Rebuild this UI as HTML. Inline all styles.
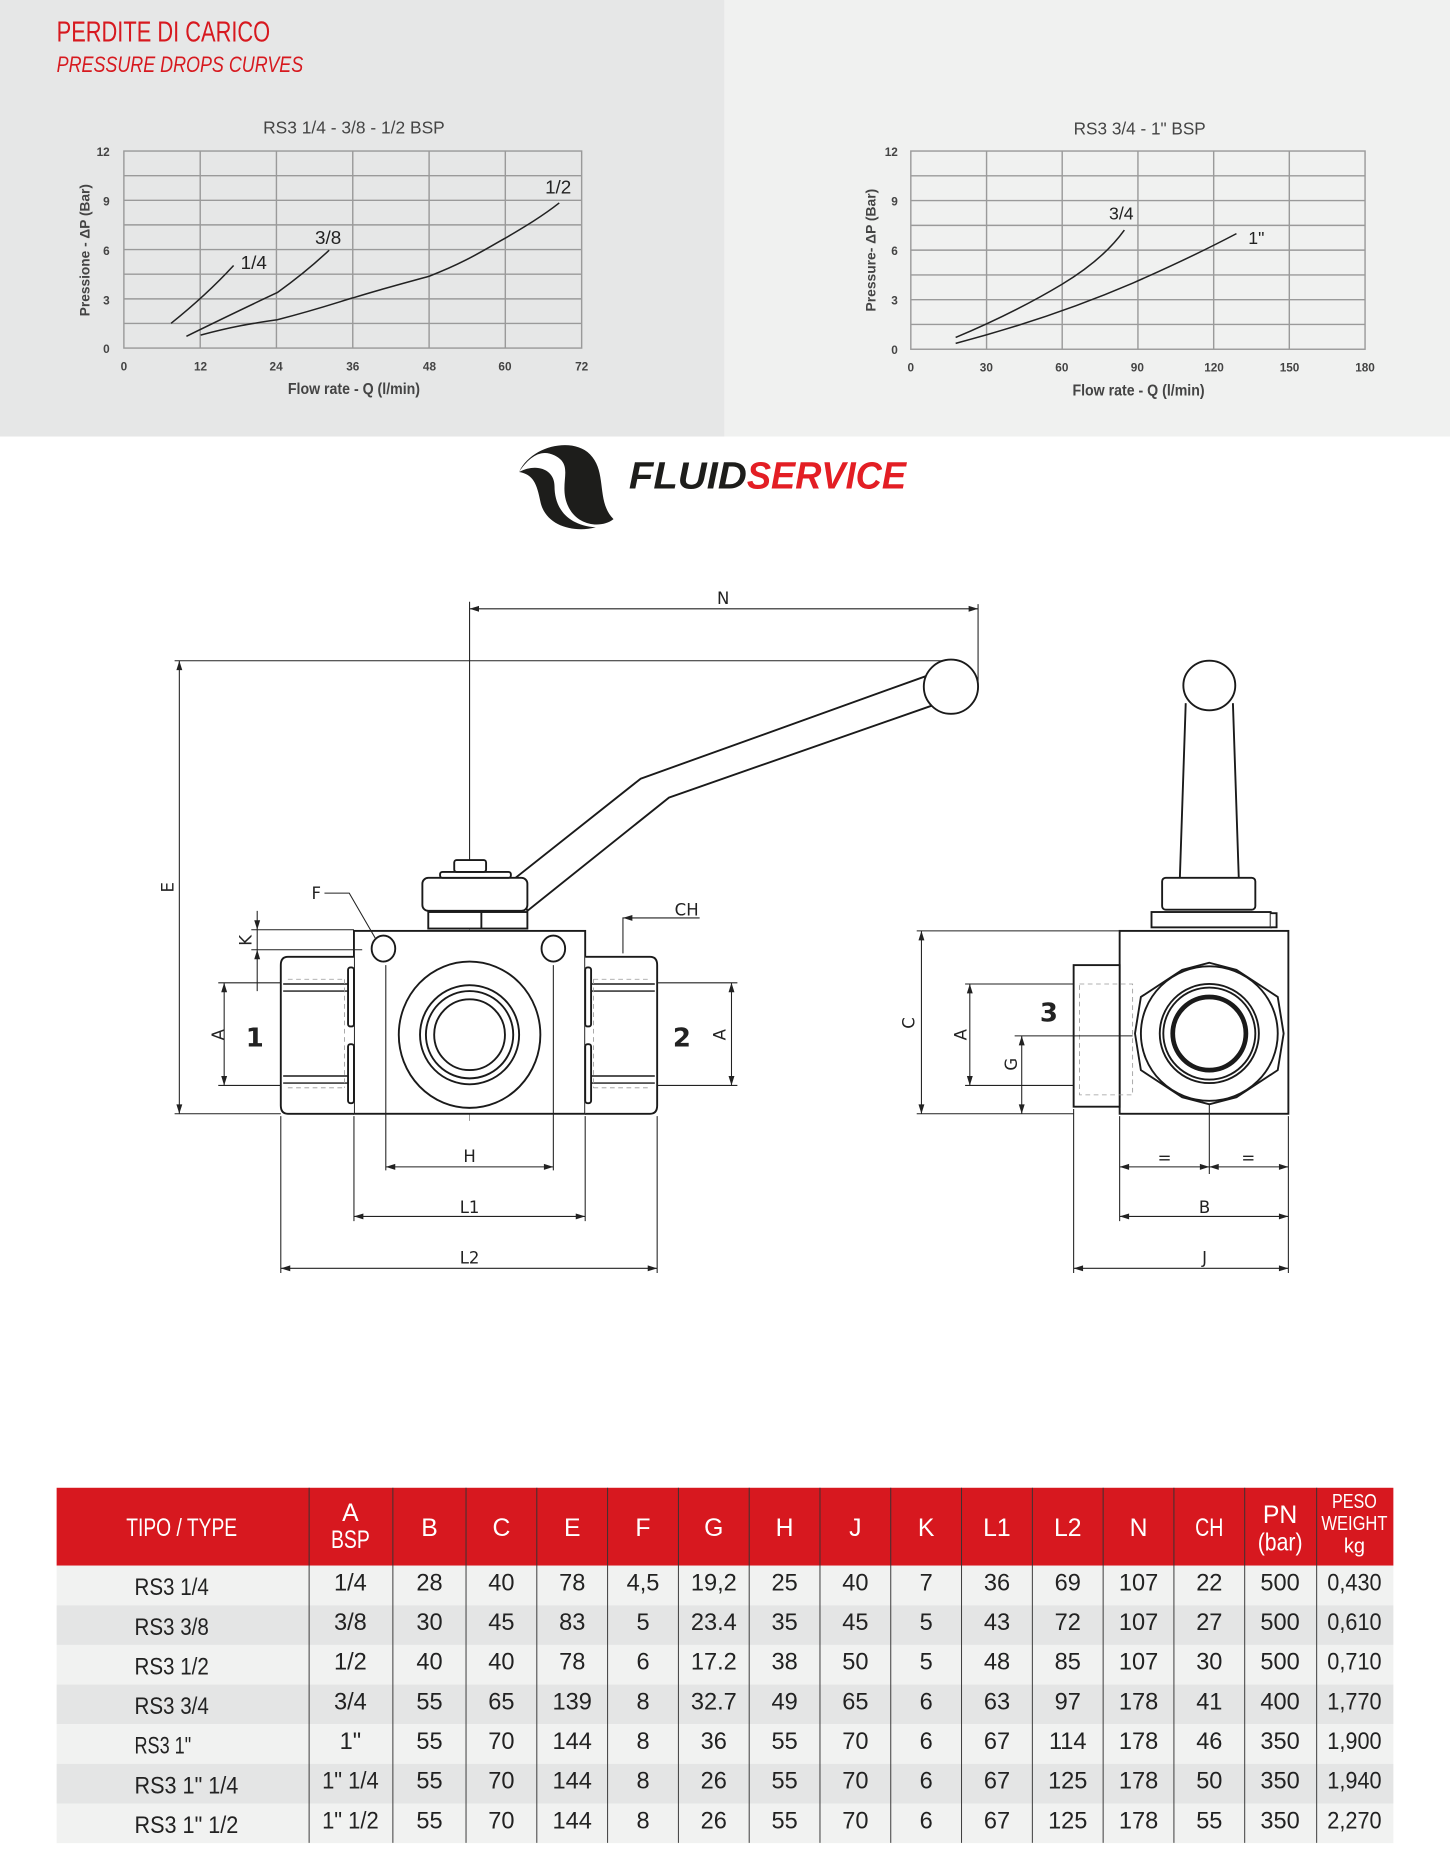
<!DOCTYPE html>
<html><head><meta charset="utf-8"><style>
html,body{margin:0;padding:0;background:#fff;}
svg{display:block;}
.t{font-family:"Liberation Sans Narrow","Liberation Sans",sans-serif;}
.d{font-family:"DejaVu Sans","Liberation Sans",sans-serif;}
</style></head><body>
<svg width="1450" height="1850" viewBox="0 0 1229 1568" xmlns="http://www.w3.org/2000/svg">
<rect x="0" y="0" width="1229" height="1568" fill="#fff"/>
<rect x="0" y="0" width="614" height="370" fill="#e6e7e7"/>
<rect x="614" y="0" width="615" height="370" fill="#f0f1f0"/>
<text x="48" y="35" class="t" font-size="24" fill="#d7191f" textLength="181" lengthAdjust="spacingAndGlyphs">PERDITE DI CARICO</text>
<text x="48" y="61" class="t" font-size="19" font-style="italic" fill="#d7191f" textLength="209" lengthAdjust="spacingAndGlyphs">PRESSURE DROPS CURVES</text>

<!-- chart 1 -->
<g stroke="#9a9a9a" stroke-width="1.2" fill="none">
<rect x="105" y="128" width="388" height="167"/>
<path d="M105 148.9H493M105 169.8H493M105 190.6H493M105 211.5H493M105 232.4H493M105 253.3H493M105 274.1H493"/>
<path d="M169.7 128V295M234.3 128V295M299 128V295M363.7 128V295M428.3 128V295"/>
</g>
<g class="t" fill="#444" font-size="14" font-weight="bold">
<text x="300" y="113" text-anchor="middle" font-weight="normal" font-size="15" textLength="154" lengthAdjust="spacingAndGlyphs">RS3 1/4 - 3/8 - 1/2 BSP</text>
<text x="93" y="132" text-anchor="end" font-size="10">12</text>
<text x="93" y="174" text-anchor="end" font-size="10">9</text>
<text x="93" y="216" text-anchor="end" font-size="10">6</text>
<text x="93" y="258" text-anchor="end" font-size="10">3</text>
<text x="93" y="299" text-anchor="end" font-size="10">0</text>
<g font-size="10" text-anchor="middle"><text x="105" y="314">0</text><text x="170" y="314">12</text><text x="234" y="314">24</text><text x="299" y="314">36</text><text x="364" y="314">48</text><text x="428" y="314">60</text><text x="493" y="314">72</text></g>
<text x="300" y="334" text-anchor="middle" font-size="13" textLength="112" lengthAdjust="spacingAndGlyphs">Flow rate - Q (l/min)</text>
<text transform="translate(76,212) rotate(-90)" text-anchor="middle" font-size="12" textLength="112" lengthAdjust="spacingAndGlyphs">Pressione - ΔP (Bar)</text>
</g>
<g stroke="#222" stroke-width="1.3" fill="none">
<path d="M145 274 Q175 250 198 225"/>
<path d="M158 285 Q205 262 235 248 Q260 230 279 212"/>
<path d="M170 284 C200 276 215 274 235 271 C270 262 290 255 299 252.5 C330 243 350 238 364 234 C395 222 410 212 428 202 C445 192 460 183 474 172"/>
</g>
<g class="t" font-size="16" fill="#222"><text x="204" y="228">1/4</text><text x="267" y="207">3/8</text><text x="462" y="164">1/2</text></g>

<!-- chart 2 -->
<g stroke="#9a9a9a" stroke-width="1.2" fill="none">
<rect x="772" y="128" width="385" height="168"/>
<path d="M772 149H1157M772 170H1157M772 191H1157M772 212H1157M772 233H1157M772 254H1157M772 275H1157"/>
<path d="M836.2 128V296M900.3 128V296M964.5 128V296M1028.7 128V296M1092.8 128V296"/>
</g>
<g class="t" fill="#444" font-weight="bold">
<text x="966" y="114" text-anchor="middle" font-weight="normal" font-size="15" textLength="112" lengthAdjust="spacingAndGlyphs">RS3 3/4 - 1" BSP</text>
<g font-size="10" text-anchor="end"><text x="761" y="132">12</text><text x="761" y="174">9</text><text x="761" y="216">6</text><text x="761" y="258">3</text><text x="761" y="300">0</text></g>
<g font-size="10" text-anchor="middle"><text x="772" y="315">0</text><text x="836" y="315">30</text><text x="900" y="315">60</text><text x="964" y="315">90</text><text x="1029" y="315">120</text><text x="1093" y="315">150</text><text x="1157" y="315">180</text></g>
<text x="965" y="335" text-anchor="middle" font-size="13" textLength="112" lengthAdjust="spacingAndGlyphs">Flow rate - Q (l/min)</text>
<text transform="translate(742,212) rotate(-90)" text-anchor="middle" font-size="12" textLength="104" lengthAdjust="spacingAndGlyphs">Pressure- ΔP (Bar)</text>
</g>
<g stroke="#222" stroke-width="1.3" fill="none">
<path d="M810 286 Q860 265 900 241 Q935 220 953 195"/>
<path d="M810 291 Q890 270 960 240 Q1010 218 1048 198"/>
</g>
<g class="t" font-size="15" fill="#222"><text x="940" y="186">3/4</text><text x="1058" y="207">1"</text></g>

<!-- logo -->
<g fill="#1d1d1b">
<path d="M440 400 C450 378 485 370 500 385 C515 400 505 425 520 440 C510 448 490 446 482 430 C472 410 488 395 470 386 C458 380 448 388 440 400Z"/>
<path d="M440 400 C455 392 470 398 470 412 C470 430 480 445 505 447 C485 452 462 445 458 425 C455 410 452 402 440 400Z"/>
</g>
<text x="533" y="414" font-family="Liberation Sans,sans-serif" font-weight="bold" font-style="italic" font-size="32" fill="#1d1d1b" textLength="100" lengthAdjust="spacingAndGlyphs">FLUID</text>
<text x="633" y="414" font-family="Liberation Sans,sans-serif" font-weight="bold" font-style="italic" font-size="32" fill="#e31e24" textLength="135" lengthAdjust="spacingAndGlyphs">SERVICE</text>

<!-- drawing left -->
<g stroke="#222" stroke-width="0.9" fill="none">
<path d="M398 510V742M829 512V580M398 516H829"/>
<path d="M148 560H800M152 560V944M148 944H238"/>
<path d="M398 742V950M300 877H496" stroke-dasharray="12 3 2 3" stroke="#888" stroke-width="0.7"/>
</g>
<g fill="#222">
<path d="M398 516l8-2.5v5z"/><path d="M829 516l-8-2.5v5z"/>
<path d="M152 560l-2.5 8h5z"/><path d="M152 944l-2.5-8h5z"/>
</g>
<g stroke="#1a1a1a" stroke-width="1.6" fill="#fff">
<path d="M785 573 L543 660 L437 744 L447 772 L567 676 L790 598"/>
<circle cx="806" cy="582" r="23"/>
<rect x="358" y="744" width="89" height="28" rx="5"/>
<rect x="363" y="773" width="84" height="14"/>
<path d="M408 773V787"/>
<rect x="373" y="739" width="60" height="5" rx="2"/>
<rect x="385" y="729" width="27" height="10" rx="2"/>
<rect x="300" y="789" width="196" height="155"/>
<path d="M300 811 H244 Q238 811 238 818 V937 Q238 944 244 944 H300"/>
<path d="M496 811 H551 Q557 811 557 818 V937 Q557 944 551 944 H496"/>
<path d="M240 834H296M240 840H296M240 912H296M240 918H296M499 834H555M499 840H555M499 912H555M499 918H555" stroke-width="1.2"/>
<rect x="295" y="820" width="5" height="50" rx="2"/><rect x="295" y="885" width="5" height="50" rx="2"/>
<rect x="496" y="820" width="5" height="50" rx="2"/><rect x="496" y="885" width="5" height="50" rx="2"/>
<ellipse cx="325" cy="804" rx="10" ry="11"/><ellipse cx="469" cy="804" rx="10" ry="11"/>
<ellipse cx="398" cy="877" rx="60" ry="62"/>
<circle cx="398" cy="877" r="42"/><circle cx="398" cy="877" r="37"/><circle cx="398" cy="877" r="30"/>
</g>
<g stroke="#999" stroke-width="0.7" stroke-dasharray="4 3" fill="none">
<path d="M244 830H292M244 922H292M503 830H552M503 922H552M292 830V922M503 830V922"/>
</g>
<g stroke="#222" stroke-width="0.9" fill="none">
<path d="M185 833H238M185 920H238M190 833V920"/>
<path d="M557 833H625M557 920H625M620 833V920"/>
<path d="M213 788H300M213 805H307M218 772V840"/>
<path d="M275 757H296L318 795"/>
<path d="M593 778H528V808"/>
<path d="M327 818V992M469 818V992M327 989H469"/>
<path d="M300 946V1035M496 946V1035M300 1031H496"/>
<path d="M238 946V1079M557 946V1079M238 1075H557"/>
</g>
<g fill="#222">
<path d="M190 833l-2.5 8h5z"/><path d="M190 920l-2.5-8h5z"/>
<path d="M620 833l-2.5 8h5z"/><path d="M620 920l-2.5-8h5z"/>
<path d="M218 788l-2.5-8h5z"/><path d="M218 805l-2.5 8h5z"/>
<path d="M528 778l8-2.5v5z"/>
<path d="M327 989l8-2.5v5z"/><path d="M469 989l-8-2.5v5z"/>
<path d="M300 1031l8-2.5v5z"/><path d="M496 1031l-8-2.5v5z"/>
<path d="M238 1075l8-2.5v5z"/><path d="M557 1075l-8-2.5v5z"/>
</g>
<g class="d" font-size="14" fill="#222" text-anchor="middle">
<text x="613" y="512">N</text>
<text transform="translate(147,752) rotate(-90)">E</text>
<text x="268" y="762">F</text>
<text x="582" y="776">CH</text>
<text transform="translate(190,877) rotate(-90)">A</text>
<text transform="translate(615,877) rotate(-90)">A</text>
<text transform="translate(213,797) rotate(-90)">K</text>
<text x="398" y="985">H</text>
<text x="398" y="1028">L1</text>
<text x="398" y="1071">L2</text>
<text x="216" y="887" font-size="22" font-weight="bold">1</text>
<text x="578" y="887" font-size="22" font-weight="bold">2</text>
</g>

<!-- right view -->
<g stroke="#1a1a1a" stroke-width="1.6" fill="#fff">
<path d="M1005 596 L1000 745 H1050 L1045 596"/>
<ellipse cx="1025" cy="581" rx="22" ry="21"/>
<rect x="985" y="744" width="79" height="27" rx="3"/>
<rect x="976" y="773" width="101" height="13"/>
<path d="M1077 774H1082V786H1077"/>
<rect x="949" y="789" width="143" height="155"/>
<rect x="910" y="818" width="39" height="120"/>
<path d="M1025 816 L1048 822 L1083 845 L1088 876 L1083 907 L1048 930 L1025 936 L1002 930 L967 907 L962 876 L967 845 L1002 822Z"/>
<ellipse cx="1025" cy="876" rx="58" ry="57"/>
<circle cx="1025" cy="876" r="42"/><circle cx="1025" cy="876" r="39"/>
<circle cx="1025" cy="876" r="31" stroke-width="4"/>
</g>
<rect x="915" y="834" width="45" height="94" fill="none" stroke="#999" stroke-width="0.7" stroke-dasharray="4 3"/>
<g stroke="#222" stroke-width="0.9" fill="none">
<path d="M777 789H949M777 944H910M781 789V944"/>
<path d="M818 834H910M818 920H910M822 834V920"/>
<path d="M860 878H960M866 878V944"/>
<path d="M949 946V1035M1092 946V1079M1025 936V995M910 940V1079"/>
<path d="M949 989H1092M949 1031H1092M910 1075H1092"/>
</g>
<g fill="#222">
<path d="M781 789l-2.5 8h5z"/><path d="M781 944l-2.5-8h5z"/>
<path d="M822 834l-2.5 8h5z"/><path d="M822 920l-2.5-8h5z"/>
<path d="M866 878l-2.5 8h5z"/><path d="M866 944l-2.5-8h5z"/>
<path d="M949 989l8-2.5v5z"/><path d="M1025 989l-8-2.5v5z"/><path d="M1025 989l8-2.5v5z"/><path d="M1092 989l-8-2.5v5z"/>
<path d="M949 1031l8-2.5v5z"/><path d="M1092 1031l-8-2.5v5z"/>
<path d="M910 1075l8-2.5v5z"/><path d="M1092 1075l-8-2.5v5z"/>
</g>
<g class="d" font-size="14" fill="#222" text-anchor="middle">
<text transform="translate(775,867) rotate(-90)">C</text>
<text transform="translate(819,877) rotate(-90)">A</text>
<text transform="translate(862,902) rotate(-90)">G</text>
<text x="987" y="986">=</text><text x="1058" y="986">=</text>
<text x="1021" y="1028">B</text>
<text x="1021" y="1071">J</text>
<text x="889" y="866" font-size="22" font-weight="bold">3</text>
</g>

<!-- table -->
<rect x="48" y="1261" width="1133" height="66" fill="#d7181f"/>
<g>
<rect x="48" y="1327" width="1133" height="33.6" fill="#f1f2f1"/>
<rect x="48" y="1360.6" width="1133" height="33.6" fill="#e4e5e5"/>
<rect x="48" y="1394.2" width="1133" height="33.6" fill="#f1f2f1"/>
<rect x="48" y="1427.8" width="1133" height="33.6" fill="#e4e5e5"/>
<rect x="48" y="1461.4" width="1133" height="33.6" fill="#f1f2f1"/>
<rect x="48" y="1495" width="1133" height="33.6" fill="#e4e5e5"/>
<rect x="48" y="1528.6" width="1133" height="33.6" fill="#f1f2f1"/>
</g>
<g stroke="#333" stroke-width="0.8">
<path d="M262 1261V1562M333 1261V1562M395 1261V1562M455 1261V1562M515 1261V1562M575 1261V1562M635 1261V1562M695 1261V1562M755 1261V1562M815 1261V1562M875 1261V1562M935 1261V1562M995 1261V1562M1055 1261V1562M1116 1261V1562"/>
</g>
<g class="t" font-size="21" fill="#fff" text-anchor="middle">
<text x="154" y="1302" textLength="94" lengthAdjust="spacingAndGlyphs">TIPO / TYPE</text>
<text x="297" y="1289">A</text><text x="297" y="1312" textLength="33" lengthAdjust="spacingAndGlyphs">BSP</text>
<text x="364" y="1302">B</text><text x="425" y="1302">C</text><text x="485" y="1302">E</text><text x="545" y="1302">F</text><text x="605" y="1302">G</text><text x="665" y="1302">H</text><text x="725" y="1302">J</text><text x="785" y="1302">K</text><text x="845" y="1302">L1</text><text x="905" y="1302">L2</text><text x="965" y="1302">N</text><text x="1025" y="1302" textLength="24" lengthAdjust="spacingAndGlyphs">CH</text>
<text x="1085" y="1291">PN</text><text x="1085" y="1314" textLength="38" lengthAdjust="spacingAndGlyphs">(bar)</text>
<g font-size="17"><text x="1148" y="1278" textLength="38" lengthAdjust="spacingAndGlyphs">PESO</text><text x="1148" y="1297" textLength="56" lengthAdjust="spacingAndGlyphs">WEIGHT</text><text x="1148" y="1316">kg</text></g>
</g>
<g class="t" font-size="20" fill="#222" text-anchor="middle">
<g transform="translate(0,1352)"><text x="114" text-anchor="start" textLength="63" lengthAdjust="spacingAndGlyphs">RS3 1/4</text><text x="297" y="-4">1/4</text><text x="364" y="-4">28</text><text x="425" y="-4">40</text><text x="485" y="-4">78</text><text x="545" y="-4">4,5</text><text x="605" y="-4">19,2</text><text x="665" y="-4">25</text><text x="725" y="-4">40</text><text x="785" y="-4">7</text><text x="845" y="-4">36</text><text x="905" y="-4">69</text><text x="965" y="-4">107</text><text x="1025" y="-4">22</text><text x="1085" y="-4">500</text><text x="1148" y="-4" textLength="46" lengthAdjust="spacingAndGlyphs">0,430</text></g>
<g transform="translate(0,1385.6)"><text x="114" text-anchor="start" textLength="63" lengthAdjust="spacingAndGlyphs">RS3 3/8</text><text x="297" y="-4">3/8</text><text x="364" y="-4">30</text><text x="425" y="-4">45</text><text x="485" y="-4">83</text><text x="545" y="-4">5</text><text x="605" y="-4">23.4</text><text x="665" y="-4">35</text><text x="725" y="-4">45</text><text x="785" y="-4">5</text><text x="845" y="-4">43</text><text x="905" y="-4">72</text><text x="965" y="-4">107</text><text x="1025" y="-4">27</text><text x="1085" y="-4">500</text><text x="1148" y="-4" textLength="46" lengthAdjust="spacingAndGlyphs">0,610</text></g>
<g transform="translate(0,1419.2)"><text x="114" text-anchor="start" textLength="63" lengthAdjust="spacingAndGlyphs">RS3 1/2</text><text x="297" y="-4">1/2</text><text x="364" y="-4">40</text><text x="425" y="-4">40</text><text x="485" y="-4">78</text><text x="545" y="-4">6</text><text x="605" y="-4">17.2</text><text x="665" y="-4">38</text><text x="725" y="-4">50</text><text x="785" y="-4">5</text><text x="845" y="-4">48</text><text x="905" y="-4">85</text><text x="965" y="-4">107</text><text x="1025" y="-4">30</text><text x="1085" y="-4">500</text><text x="1148" y="-4" textLength="46" lengthAdjust="spacingAndGlyphs">0,710</text></g>
<g transform="translate(0,1452.8)"><text x="114" text-anchor="start" textLength="63" lengthAdjust="spacingAndGlyphs">RS3 3/4</text><text x="297" y="-4">3/4</text><text x="364" y="-4">55</text><text x="425" y="-4">65</text><text x="485" y="-4">139</text><text x="545" y="-4">8</text><text x="605" y="-4">32.7</text><text x="665" y="-4">49</text><text x="725" y="-4">65</text><text x="785" y="-4">6</text><text x="845" y="-4">63</text><text x="905" y="-4">97</text><text x="965" y="-4">178</text><text x="1025" y="-4">41</text><text x="1085" y="-4">400</text><text x="1148" y="-4" textLength="46" lengthAdjust="spacingAndGlyphs">1,770</text></g>
<g transform="translate(0,1486.4)"><text x="114" text-anchor="start" textLength="48" lengthAdjust="spacingAndGlyphs">RS3 1"</text><text x="297" y="-4">1"</text><text x="364" y="-4">55</text><text x="425" y="-4">70</text><text x="485" y="-4">144</text><text x="545" y="-4">8</text><text x="605" y="-4">36</text><text x="665" y="-4">55</text><text x="725" y="-4">70</text><text x="785" y="-4">6</text><text x="845" y="-4">67</text><text x="905" y="-4">114</text><text x="965" y="-4">178</text><text x="1025" y="-4">46</text><text x="1085" y="-4">350</text><text x="1148" y="-4" textLength="46" lengthAdjust="spacingAndGlyphs">1,900</text></g>
<g transform="translate(0,1520)"><text x="114" text-anchor="start" textLength="88" lengthAdjust="spacingAndGlyphs">RS3 1" 1/4</text><text x="297" y="-4" textLength="48" lengthAdjust="spacingAndGlyphs">1" 1/4</text><text x="364" y="-4">55</text><text x="425" y="-4">70</text><text x="485" y="-4">144</text><text x="545" y="-4">8</text><text x="605" y="-4">26</text><text x="665" y="-4">55</text><text x="725" y="-4">70</text><text x="785" y="-4">6</text><text x="845" y="-4">67</text><text x="905" y="-4">125</text><text x="965" y="-4">178</text><text x="1025" y="-4">50</text><text x="1085" y="-4">350</text><text x="1148" y="-4" textLength="46" lengthAdjust="spacingAndGlyphs">1,940</text></g>
<g transform="translate(0,1553.6)"><text x="114" text-anchor="start" textLength="88" lengthAdjust="spacingAndGlyphs">RS3 1" 1/2</text><text x="297" y="-4" textLength="48" lengthAdjust="spacingAndGlyphs">1" 1/2</text><text x="364" y="-4">55</text><text x="425" y="-4">70</text><text x="485" y="-4">144</text><text x="545" y="-4">8</text><text x="605" y="-4">26</text><text x="665" y="-4">55</text><text x="725" y="-4">70</text><text x="785" y="-4">6</text><text x="845" y="-4">67</text><text x="905" y="-4">125</text><text x="965" y="-4">178</text><text x="1025" y="-4">55</text><text x="1085" y="-4">350</text><text x="1148" y="-4" textLength="46" lengthAdjust="spacingAndGlyphs">2,270</text></g>
</g>
</svg>
</body></html>
